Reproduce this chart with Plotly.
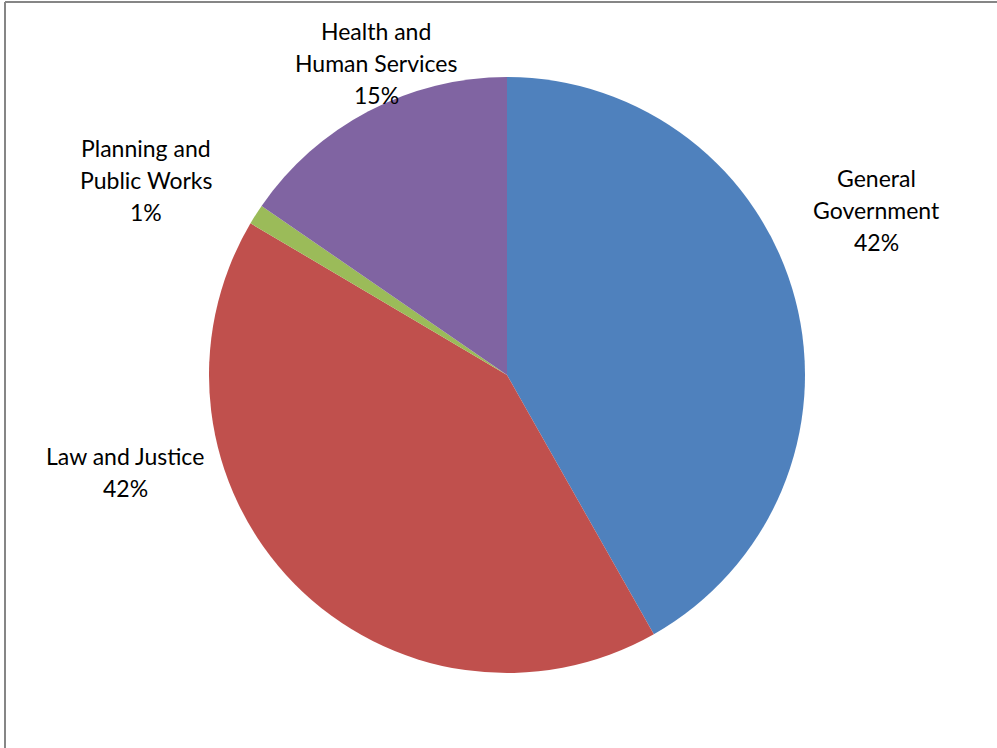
import plotly.graph_objects as go

categories = ["General Government", "Law and Justice", "Planning and Public Works", "Health and Human Services"]
values = [41.8, 41.7, 1.1, 15.4]
colors = ["#4F81BD", "#C0504D", "#9BBB59", "#8064A2"]
label_lines = [["General", "Government"], ["Law and Justice"], ["Planning and", "Public Works"], ["Health and", "Human Services"]]

W, H = 997, 748
# label centre positions in pixels (layout)
label_pos = [(876, 210), (125, 472), (146, 180), (376, 63)]
line_gap = 32

fig = go.Figure(go.Pie(
    labels=categories, values=values, sort=False, direction="clockwise", rotation=0,
    marker=dict(colors=colors, line=dict(width=0)),
    textinfo="none", hoverinfo="label+percent", showlegend=False,
    domain=dict(x=[209 / W, 805 / W], y=[1 - 673 / H, 1 - 77 / H]),
))

total = sum(values)
annotations = []
for lines, v, (cx, cy) in zip(label_lines, values, label_pos):
    all_lines = lines + [f"{round(v / total * 100)}%"]
    n = len(all_lines)
    for i, t in enumerate(all_lines):
        y = cy + (i - (n - 1) / 2) * line_gap
        annotations.append(dict(
            x=cx / W, y=1 - y / H, xref="paper", yref="paper", text=t, showarrow=False,
            xanchor="center", yanchor="middle",
            font=dict(family="Lato, Open Sans, sans-serif", size=23, color="#000000"),
        ))

border = dict(color="#868686", width=2)
fig.update_layout(
    width=W, height=H, margin=dict(l=0, r=0, t=0, b=0),
    paper_bgcolor="white", plot_bgcolor="white",
    annotations=annotations,
    shapes=[
        dict(type="line", xref="paper", yref="paper", x0=5 / W, y0=0, x1=5 / W, y1=1 - 2 / H, line=border),
        dict(type="line", xref="paper", yref="paper", x0=5 / W, y0=1 - 2 / H, x1=1, y1=1 - 2 / H, line=border),
    ],
)

fig.write_html(
    "out.html",
    config={"displayModeBar": False},
    post_script="document.body.style.margin='0';document.body.style.overflow='hidden';",
)
